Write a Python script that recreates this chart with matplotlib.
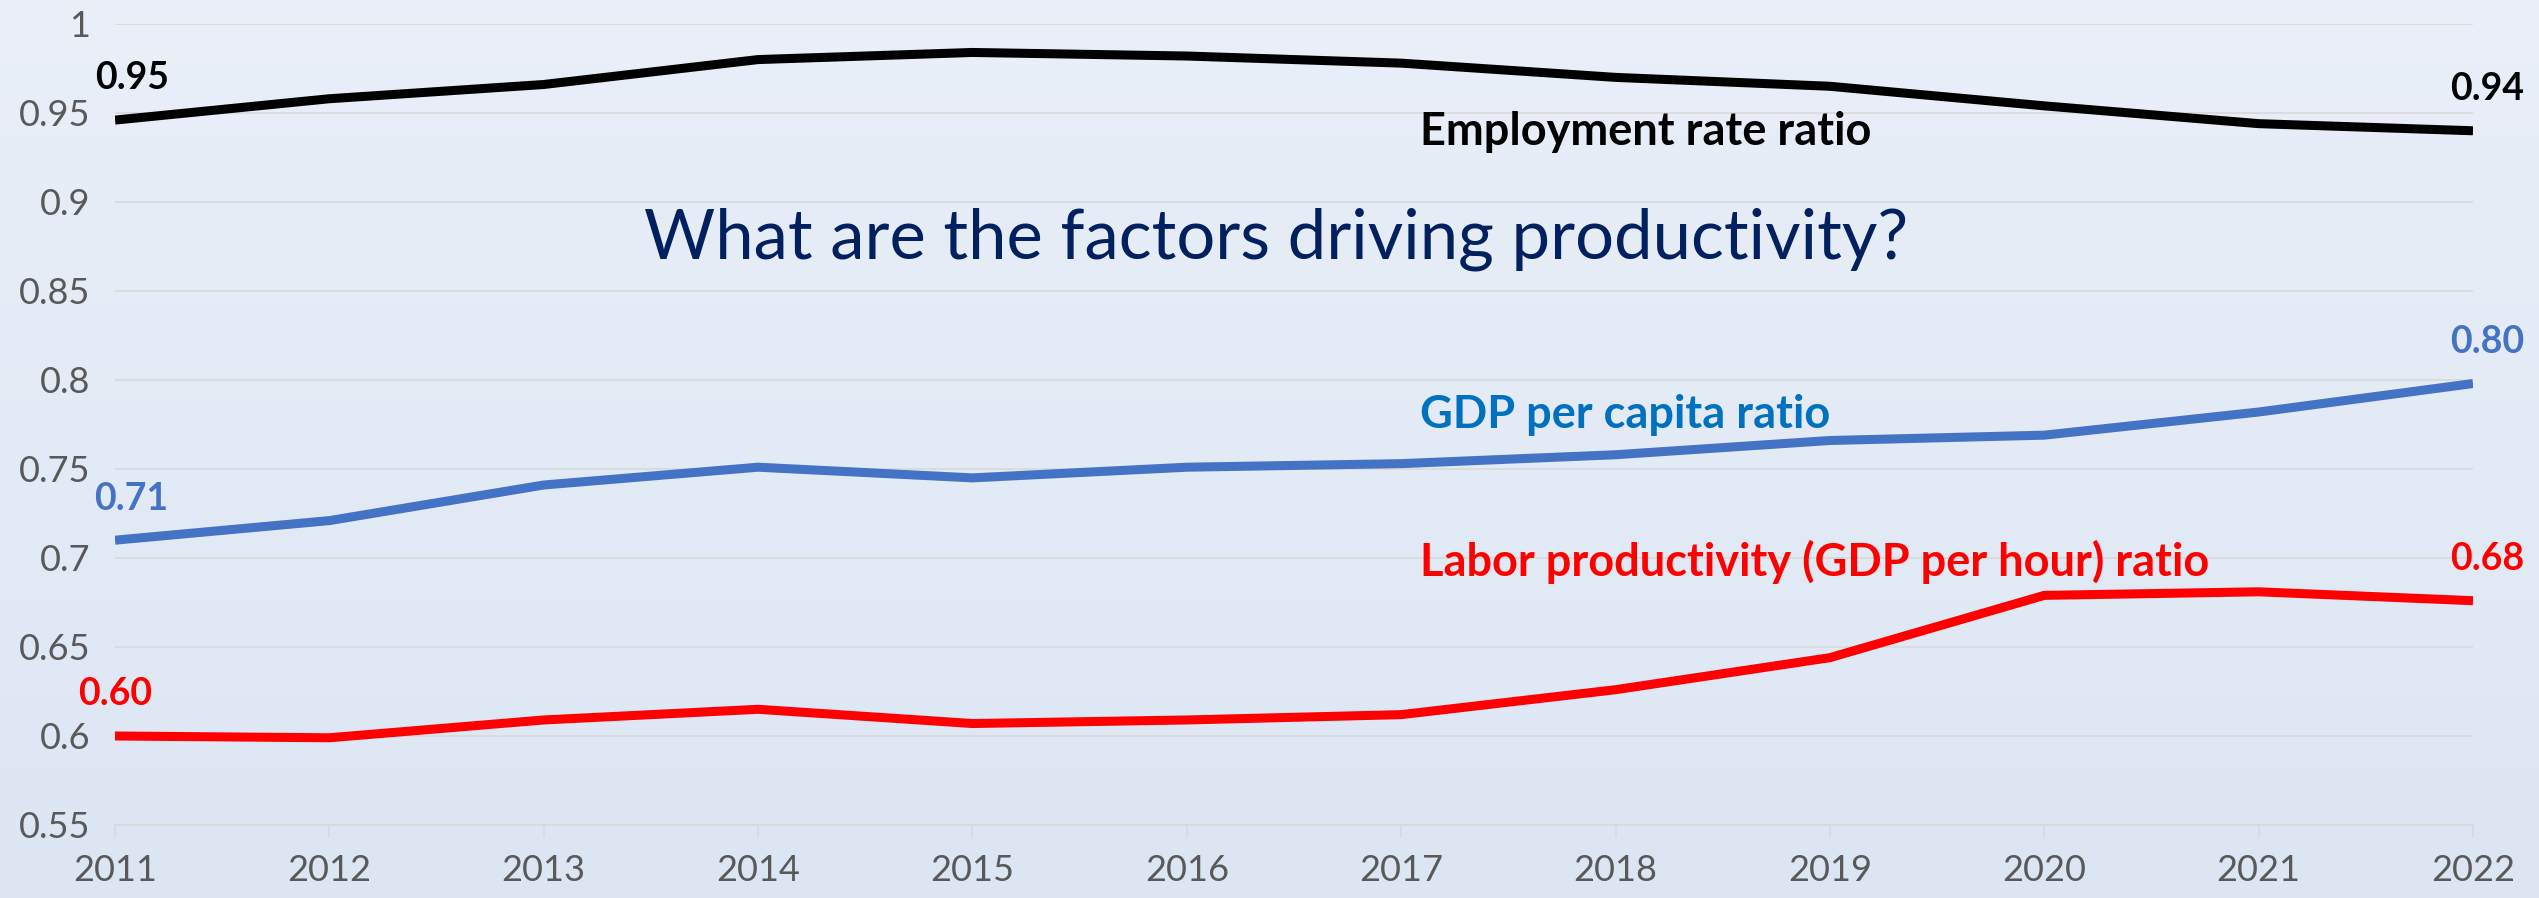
import numpy as np
import matplotlib
matplotlib.use('Agg')
import matplotlib.pyplot as plt
from matplotlib.colors import LinearSegmentedColormap

plt.rcParams['font.family'] = ['Lato', 'DejaVu Sans']

years = [2011, 2012, 2013, 2014, 2015, 2016, 2017, 2018, 2019, 2020, 2021, 2022]
employment = [0.946, 0.958, 0.966, 0.980, 0.984, 0.982, 0.978, 0.970, 0.965, 0.954, 0.944, 0.940]
gdp_capita = [0.710, 0.721, 0.741, 0.751, 0.745, 0.751, 0.753, 0.758, 0.766, 0.769, 0.782, 0.798]
labor_prod = [0.600, 0.599, 0.609, 0.615, 0.607, 0.609, 0.612, 0.626, 0.644, 0.679, 0.681, 0.676]
y_ticks = [0.55, 0.6, 0.65, 0.7, 0.75, 0.8, 0.85, 0.9, 0.95, 1.0]
y_tick_labels = ['0.55', '0.6', '0.65', '0.7', '0.75', '0.8', '0.85', '0.9', '0.95', '1']

black = '#000000'
blue_line = '#4472c4'
blue_text = '#0070c0'
red = '#ff0000'
tick_grey = '#595959'
grid_grey = '#d9d9d9'

fig = plt.figure(figsize=(25.39, 8.98), dpi=100)

# soft vertical gradient behind everything
bg = fig.add_axes([0, 0, 1, 1], zorder=0)
grad = LinearSegmentedColormap.from_list('bg', ['#eaeff8', '#dce6f3'])
bg.imshow(np.linspace(0, 1, 256).reshape(-1, 1), aspect='auto', cmap=grad,
          extent=[0, 1, 0, 1])
bg.axis('off')

ax = fig.add_axes([0.0453, 0.0813, 0.9287, 0.892], zorder=1)
ax.patch.set_alpha(0)

ax.plot(years, employment, color=black, lw=6.5, solid_capstyle='butt', zorder=3)
ax.plot(years, gdp_capita, color=blue_line, lw=6.5, solid_capstyle='butt', zorder=3)
ax.plot(years, labor_prod, color=red, lw=6.5, solid_capstyle='butt', zorder=3)

ax.set_xlim(years[0], years[-1])
ax.set_ylim(0.55, 1.0)
ax.set_xticks(years)
ax.set_xticklabels([str(y) for y in years])
ax.set_yticks(y_ticks)
ax.set_yticklabels(y_tick_labels)
ax.yaxis.grid(True, color=grid_grey, lw=1.2)
ax.set_axisbelow(True)

for side in ['top', 'left', 'right']:
    ax.spines[side].set_visible(False)
ax.spines['bottom'].set_color(grid_grey)
ax.spines['bottom'].set_linewidth(1.2)

ax.tick_params(axis='y', length=0, pad=18, labelsize=26, labelcolor=tick_grey)
ax.tick_params(axis='x', length=9, width=1.2, color=grid_grey, pad=12,
               labelsize=26, labelcolor=tick_grey)

# end-point value labels
def end_label(x, y, color, dx):
    ax.annotate('{:.2f}'.format(y), xy=(x, y), xytext=(dx, 30),
                textcoords='offset points', ha='center', va='center',
                fontsize=27, fontweight='bold', color=color, clip_on=False)

end_label(years[0], employment[0], black, 12)
end_label(years[-1], employment[-1], black, 10)
end_label(years[0], gdp_capita[0], blue_line, 12)
end_label(years[-1], gdp_capita[-1], blue_line, 10)
end_label(years[0], labor_prod[0], red, 0)
end_label(years[-1], labor_prod[-1], red, 10)

# series names, left-aligned in one column
name_x = 2017.09
ax.text(name_x, 0.932, 'Employment rate ratio', color=black, fontsize=32.5,
        fontweight='bold', ha='left', va='baseline')
ax.text(name_x, 0.773, 'GDP per capita ratio', color=blue_text, fontsize=32.5,
        fontweight='bold', ha='left', va='baseline')
ax.text(name_x, 0.690, 'Labor productivity (GDP per hour) ratio', color=red,
        fontsize=32.5, fontweight='bold', ha='left', va='baseline')

ax.text(2013.47, 0.8685, 'What are the factors driving productivity?',
        color='#002060', fontsize=49.5, fontweight='normal', ha='left',
        va='baseline')

fig.savefig('out.png', dpi=100)
